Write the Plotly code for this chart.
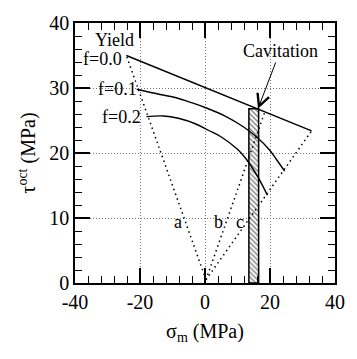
import plotly.graph_objects as go

# Yield surfaces for three void fractions (sigma_m, tau_oct) in MPa
f00_x = [-24.2, 32.8]
f00_y = [35.0, 23.4]

f01_x = [-21.0, -13.8, -8.9, -3.9, 0.0, 5.9, 11.9, 15.8, 19.8, 22.0, 24.5]
f01_y = [29.8, 29.0, 28.5, 27.7, 27.0, 25.75, 24.0, 22.5, 20.5, 19.0, 17.2]

f02_x = [-18.0, -12.8, -7.9, -3.0, 1.0, 4.9, 9.9, 12.8, 16.3, 17.8, 19.2]
f02_y = [25.6, 25.7, 25.3, 24.5, 23.5, 22.5, 20.6, 19.0, 16.3, 14.9, 13.5]

# Loading paths a, b, c from the origin
path_a_x = [0.3, -24.2]
path_a_y = [0.5, 35.0]
path_b_x = [0.3, 18.4]
path_b_y = [0.5, 26.3]
path_c_x = [0.3, 32.8]
path_c_y = [0.5, 23.4]

# Cavitation band
cav_center = 15.0
cav_width = 3.0
cav_height = 26.8

FONT = "Liberation Serif"

fig = go.Figure()

for px_, py_ in [(path_a_x, path_a_y), (path_b_x, path_b_y), (path_c_x, path_c_y)]:
    fig.add_trace(go.Scatter(x=px_, y=py_, mode="lines",
                             line=dict(color="black", width=1.5, dash="1.5px,3.5px"),
                             hoverinfo="skip"))

fig.add_trace(go.Bar(x=[cav_center], y=[cav_height], width=[cav_width], base=0,
                     marker=dict(color="white",
                                 line=dict(color="black", width=1.5),
                                 pattern=dict(shape="\\", fgcolor="black", bgcolor="white",
                                              size=3.5, solidity=0.4))))

fig.add_trace(go.Scatter(x=f00_x, y=f00_y, mode="lines",
                         line=dict(color="black", width=1.4)))
fig.add_trace(go.Scatter(x=f01_x, y=f01_y, mode="lines", line_shape="spline",
                         line=dict(color="black", width=1.4, smoothing=1.0)))
fig.add_trace(go.Scatter(x=f02_x, y=f02_y, mode="lines", line_shape="spline",
                         line=dict(color="black", width=1.4, smoothing=1.0)))

labels = [
    ("Yield", -27.8, 37.4),
    ("f=0.0", -31.4, 34.5),
    ("f=0.1", -27.0, 29.8),
    ("f=0.2", -25.6, 25.6),
    ("a", -8.4, 9.4),
    ("b", 4.0, 9.4),
    ("c", 10.9, 9.4),
]
for t, x, y in labels:
    fig.add_annotation(text=t, x=x, y=y, xref="x", yref="y", showarrow=False,
                       font=dict(family=FONT, size=18, color="black"))
fig.add_annotation(text="Cavitation", x=16.3, y=cav_height, xref="x", yref="y",
                   ax=23.1, ay=35.7, axref="x", ayref="y",
                   showarrow=True, arrowhead=5, arrowsize=2.4, arrowwidth=1,
                   arrowcolor="black",
                   font=dict(family=FONT, size=18, color="black"))

axis_common = dict(
    showline=True, linecolor="black", linewidth=1.5, mirror="ticks",
    ticks="inside", ticklen=15, tickwidth=1.5, tickcolor="black",
    showgrid=True, gridcolor="#777", gridwidth=1, griddash="1px,2px",
    zeroline=False,
    tickfont=dict(family=FONT, size=20, color="black"),
)

fig.update_layout(
    width=357, height=359,
    margin=dict(l=75, r=12, t=15, b=76),
    paper_bgcolor="white", plot_bgcolor="white",
    showlegend=False,
)
fig.update_xaxes(range=[-40, 40], tickvals=[-40, -20, 0, 20, 40],
                 ticktext=["-40", "-20", "0", "20", "40"],
                 minor=dict(dtick=4, ticklen=7, ticks="inside", tickcolor="black",
                            tickwidth=1, showgrid=False),
                 title=dict(text="σ<sub>m</sub> (MPa)",
                            font=dict(family=FONT, size=20, color="black"),
                            standoff=12),
                 **axis_common)
fig.update_yaxes(range=[0, 40], tickvals=[0, 10, 20, 30, 40],
                 minor=dict(dtick=2, ticklen=7, ticks="inside", tickcolor="black",
                            tickwidth=1, showgrid=False),
                 title=dict(text="τ<sup>oct</sup> (MPa)",
                            font=dict(family=FONT, size=20, color="black"),
                            standoff=8),
                 **axis_common)

fig.write_html("out.html")
